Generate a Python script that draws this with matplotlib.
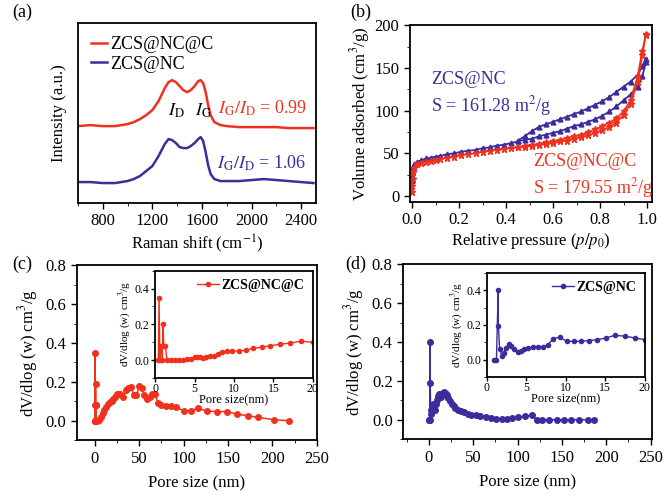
"""Raman, N2 isotherm and pore size distribution for ZCS@NC and ZCS@NC@C."""
import matplotlib
matplotlib.use("Agg")
import matplotlib.pyplot as plt
from matplotlib.ticker import MultipleLocator

plt.rcParams.update({"font.family": "Liberation Serif", "mathtext.fontset": "stix",
                     "font.size": 12, "axes.linewidth": 1.3,
                     "xtick.direction": "out", "ytick.direction": "out",
                     "xtick.major.size": 4, "ytick.major.size": 4,
                     "xtick.minor.size": 2.5, "ytick.minor.size": 2.5,
                     "xtick.major.width": 1, "ytick.major.width": 1})
RED = "#f0311e"
BLUE = "#3c2c9c"

# ---- (a) Raman spectra (a.u., offset) ----
raman_shift = [600, 700, 800, 900, 1000, 1050, 1100, 1150, 1200, 1250, 1300, 1330, 1360,
               1390, 1420, 1450, 1480, 1510, 1540, 1570, 1590, 1610, 1630, 1650, 1670,
               1700, 1750, 1800, 1900, 2000, 2100, 2200, 2300, 2400, 2500]
raman_nc_c = [77, 78, 77, 77, 79, 81, 84, 88, 93, 102, 115, 121, 123,
              121, 117, 113, 111, 113, 117, 122, 123, 120, 111, 98, 88,
              81, 78, 77, 76, 76, 76, 76, 75, 75, 75]
raman_nc = [21, 21, 20, 20, 22, 24, 27, 32, 37, 47, 59, 64, 63,
            60, 56, 55, 55, 57, 60, 64, 66, 62, 51, 38, 29,
            24, 22, 22, 22, 23, 24, 23, 22, 21, 20]

# ---- (b) N2 adsorption/desorption isotherms ----
p_ads = [0.0005, 0.001, 0.002, 0.004, 0.008, 0.02, 0.04, 0.06, 0.08, 0.10, 0.12, 0.15,
         0.18, 0.21, 0.24, 0.27, 0.30, 0.33, 0.36, 0.39, 0.42, 0.45, 0.48, 0.51, 0.54,
         0.57, 0.60, 0.63, 0.66, 0.69, 0.72, 0.75, 0.78, 0.81, 0.84, 0.87, 0.90, 0.93,
         0.96, 0.98, 0.995]
v_ads_nc = [18, 25, 30, 34, 37, 40, 42, 44, 45, 46, 47, 49,
            50, 52, 53, 54, 56, 57, 59, 60, 62, 64, 66, 67, 70,
            72, 74, 76, 79, 82, 84, 87, 90, 94, 99, 105, 112, 119,
            128, 140, 157]
v_ads_nc_c = [5, 12, 20, 28, 33, 37, 39, 40, 41, 42, 43, 45,
              46, 48, 49, 50, 52, 53, 54, 55, 56, 57, 58, 59, 60,
              61, 62, 64, 65, 67, 69, 71, 74, 77, 81, 86, 95, 108,
              134, 165, 190]
p_des = [0.995, 0.98, 0.96, 0.93, 0.90, 0.87, 0.84, 0.81, 0.78, 0.75, 0.72, 0.69,
         0.66, 0.63, 0.60, 0.57, 0.54, 0.51, 0.48, 0.45]
v_des_nc = [161, 152, 142, 134, 128, 122, 116, 111, 107, 103, 99, 96,
            93, 90, 87, 84, 81, 76, 70, 65]
v_des_nc_c = [188, 170, 140, 112, 99, 91, 86, 82, 78, 75, 72, 70,
              68, 66, 64, 63, 61, 60, 59, 57]

# ---- (c) pore size distribution, ZCS@NC@C ----
pore_c = [0.4, 0.5, 0.6, 0.75, 0.9, 1.0, 1.1, 1.3, 1.5, 3, 5, 7, 9, 11, 13, 15, 17, 19,
          21, 23, 25, 27, 29, 32, 35, 38, 41, 44, 47, 50, 53, 56, 59, 62, 65, 68, 71,
          75, 80, 86, 92, 100, 108, 116, 126, 138, 149, 160, 172, 184, 202, 219]
dv_c = [0, 0.35, 0, 0.08, 0, 0.19, 0.08, 0.08, 0, 0, 0.005, 0.02, 0.04, 0.055, 0.07,
        0.085, 0.095, 0.10, 0.11, 0.12, 0.135, 0.14, 0.14, 0.12, 0.16, 0.17, 0.175,
        0.13, 0.13, 0.178, 0.17, 0.13, 0.11, 0.12, 0.135, 0.14, 0.09, 0.08, 0.075,
        0.078, 0.07, 0.05, 0.05, 0.065, 0.05, 0.047, 0.047, 0.034, 0.026, 0.017,
        0.005, 0]
pore_c_in = [0.4, 0.5, 0.6, 0.75, 0.9, 1.0, 1.1, 1.3, 1.5, 2, 2.5, 3, 3.5, 4, 4.5, 5,
             5.3, 5.7, 6.1, 6.5, 7, 7.5, 8, 8.5, 9.1, 9.8, 10.6, 11.5, 12.4, 13.5,
             14.6, 15.8, 17.1, 18.5, 20]
dv_c_in = [0, 0.35, 0, 0.08, 0, 0.2, 0.08, 0.08, 0, 0, 0, 0, 0.002, 0.005, 0.008,
           0.015, 0.018, 0.015, 0.012, 0.015, 0.02, 0.025, 0.035, 0.045, 0.05, 0.052,
           0.05, 0.055, 0.065, 0.072, 0.08, 0.088, 0.095, 0.105, 0.1]

# ---- (d) pore size distribution, ZCS@NC ----
pore_d = [0, 0.5, 1, 1.3, 1.5, 2, 3, 4, 5, 6, 7, 8, 9, 10, 11, 12, 13, 14, 15, 16, 17,
          18, 19, 20, 22, 24, 26, 28, 30, 33, 36, 40, 44, 48, 53, 58, 64, 70, 76, 82,
          88, 94, 100, 108, 116, 122, 128, 136, 145, 152, 160, 169, 179, 186]
dv_d = [0, 0, 0, 0.4, 0.19, 0.05, 0.03, 0.07, 0.08, 0.06, 0.05, 0.08, 0.1, 0.12,
        0.125, 0.13, 0.12, 0.115, 0.13, 0.14, 0.145, 0.14, 0.135, 0.125, 0.11, 0.095,
        0.08, 0.07, 0.06, 0.05, 0.045, 0.04, 0.03, 0.025, 0.025, 0.02, 0.015, 0.01,
        0.006, 0.005, 0.006, 0.009, 0.013, 0.017, 0.022, 0, 0, 0, 0, 0, 0, 0, 0, 0]
pore_d_in = [0.9, 1.2, 1.42, 1.45, 1.6, 1.9, 2.1, 2.4, 2.8, 3.1, 3.4, 3.9, 4.3, 4.7,
             5.2, 5.8, 6.5, 7.1, 7.7, 8.4, 9.2, 10.1, 11.0, 11.9, 12.9, 14.0, 15.1,
             16.2, 17.5, 18.7, 20.0]
dv_d_in = [0, 0, 0.4, 0.196, 0.06, 0.02, 0.04, 0.065, 0.09, 0.08, 0.06, 0.045, 0.05,
           0.06, 0.065, 0.07, 0.07, 0.075, 0.085, 0.12, 0.13, 0.105, 0.105, 0.105,
           0.11, 0.115, 0.125, 0.14, 0.135, 0.125, 0.115]

PSD_LABEL = r"dV/dlog (w) cm$^3$/g"

fig = plt.figure(figsize=(6.63, 4.94), dpi=100)

# (a)
ax = fig.add_axes([0.1176, 0.589, 0.359, 0.364])
ax.plot(raman_shift, raman_nc_c, color=RED, lw=1.8, label="ZCS@NC@C")
ax.plot(raman_shift, raman_nc, color=BLUE, lw=1.8, label="ZCS@NC")
ax.set_xlim(600, 2520)
ax.set_ylim(0, 180)
ax.set_yticks([])
ax.xaxis.set_major_locator(MultipleLocator(400))
ax.xaxis.set_minor_locator(MultipleLocator(200))
ax.set_xlabel(r"Raman shift (cm$^{-1}$)", labelpad=2)
ax.set_ylabel("Intensity (a.u.)", labelpad=8)
ax.legend(loc="upper left", frameon=False, fontsize=13, handlelength=0.9,
          handletextpad=0.2, labelspacing=0.15, borderaxespad=0.3)
ax.text(1395, 88, r"$I_\mathrm{D}$", fontsize=13, ha="center")
ax.text(1615, 88, r"$I_\mathrm{G}$", fontsize=13, ha="center")
ax.text(1730, 95, r"$I_\mathrm{G}/I_\mathrm{D}$ = 0.99", color=RED, fontsize=13, va="center")
ax.text(1720, 40, r"$I_\mathrm{G}/I_\mathrm{D}$ = 1.06", color=BLUE, fontsize=13, va="center")

# (b)
ax = fig.add_axes([0.618, 0.591, 0.365, 0.358])
ax.plot(p_ads, v_ads_nc, color=BLUE, marker="^", ms=3.5, lw=1.3)
ax.plot(p_des, v_des_nc, color=BLUE, marker="^", ms=3.5, lw=1.3)
ax.plot(p_ads, v_ads_nc_c, color=RED, marker="*", ms=5, lw=1.3)
ax.plot(p_des, v_des_nc_c, color=RED, marker="*", ms=5, lw=1.3)
ax.set_xlim(-0.01, 1.02)
ax.set_ylim(-7, 200)
ax.xaxis.set_major_locator(MultipleLocator(0.2))
ax.xaxis.set_minor_locator(MultipleLocator(0.1))
ax.yaxis.set_major_locator(MultipleLocator(50))
ax.yaxis.set_minor_locator(MultipleLocator(25))
ax.xaxis.set_major_formatter(lambda x, pos: f"{x:.1f}")
ax.set_xlabel(r"Relative pressure ($p/p_0$)", labelpad=2)
ax.set_ylabel(r"Volume adsorbed (cm$^3$/g)", labelpad=2)
ax.text(0.08, 136, "ZCS@NC", color=BLUE, fontsize=13, va="center")
ax.text(0.08, 105, r"S = 161.28 m$^2$/g", color=BLUE, fontsize=13, va="center")
ax.text(0.515, 40, "ZCS@NC@C", color=RED, fontsize=13, va="center")
ax.text(0.515, 10, r"S = 179.55 m$^2$/g", color=RED, fontsize=13, va="center")


def psd_axes(rect, xlim):
    a = fig.add_axes(rect)
    a.set_xlim(*xlim)
    a.set_ylim(-0.1, 0.8)
    a.xaxis.set_major_locator(MultipleLocator(50))
    a.xaxis.set_minor_locator(MultipleLocator(25))
    a.yaxis.set_major_locator(MultipleLocator(0.2))
    a.yaxis.set_minor_locator(MultipleLocator(0.1))
    a.yaxis.set_major_formatter(lambda y, pos: f"{y:.1f}")
    a.set_xlabel("Pore size (nm)", labelpad=6)
    a.set_ylabel(PSD_LABEL, labelpad=4)
    return a


def inset_axes(rect):
    a = fig.add_axes(rect)
    a.set_xlim(0, 20)
    a.set_ylim(-0.1, 0.5)
    a.xaxis.set_major_locator(MultipleLocator(5))
    a.yaxis.set_major_locator(MultipleLocator(0.2))
    a.yaxis.set_minor_locator(MultipleLocator(0.1))
    a.yaxis.set_major_formatter(lambda y, pos: f"{y:.1f}")
    a.tick_params(labelsize=8.5, length=3, pad=1)
    a.tick_params(which="minor", length=2)
    a.set_xlabel("Pore size(nm)", fontsize=9, labelpad=-1)
    a.set_ylabel(PSD_LABEL, fontsize=8, labelpad=1)
    return a


# (c)
ax = psd_axes([0.116, 0.109, 0.362, 0.354], (-20, 250))
ax.plot(pore_c, dv_c, color=RED, marker="o", ms=4, lw=1.1)
ax = inset_axes([0.234, 0.235, 0.238, 0.217])
ax.plot(pore_c_in, dv_c_in, color=RED, marker="o", ms=3, lw=1.0, label="ZCS@NC@C")
ax.legend(loc="upper right", frameon=False, prop={"weight": "bold", "size": 10},
          handlelength=1.6, handletextpad=0.2, borderaxespad=0.2)

# (d)
ax = psd_axes([0.608, 0.111, 0.376, 0.354], (-29, 252))
ax.plot(pore_d, dv_d, color=BLUE, marker="o", ms=4, lw=1.1)
ax = inset_axes([0.7345, 0.237, 0.238, 0.2105])
ax.plot(pore_d_in, dv_d_in, color=BLUE, marker="o", ms=3, lw=1.0, label="ZCS@NC")
ax.legend(loc="upper right", frameon=False, prop={"weight": "bold", "size": 10},
          handlelength=1.6, handletextpad=0.2, borderaxespad=0.2)

for x, y, s in [(0.018, 0.965, "(a)"), (0.528, 0.965, "(b)"),
                (0.018, 0.455, "(c)"), (0.52, 0.455, "(d)")]:
    fig.text(x, y, s, fontsize=13)

fig.savefig("out.png", dpi=100)
